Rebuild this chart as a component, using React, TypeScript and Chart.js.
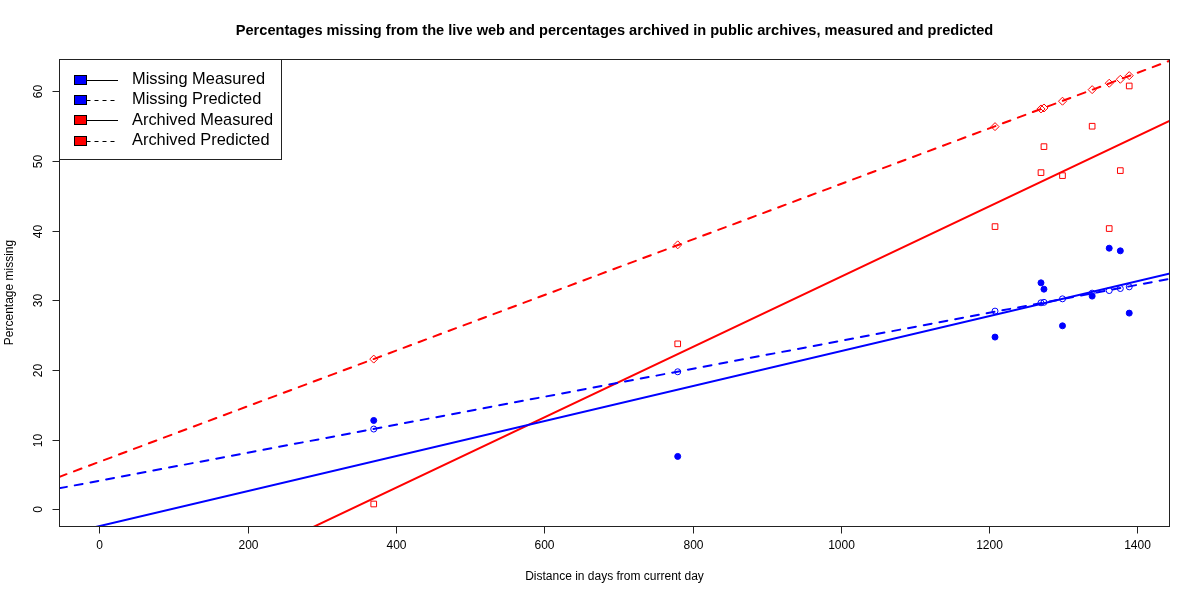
import React, { useEffect, useRef } from "react";
import { Chart, registerables } from "chart.js";

Chart.register(...registerables);

// ---- Data ----
const DAYS = [370, 780, 1208, 1270, 1274, 1299, 1339, 1362, 1377, 1389];
const MISSING_MEASURED = [12.74, 7.58, 24.71, 32.5, 31.59, 26.33, 30.59, 37.47, 37.09, 28.15];
const MISSING_PREDICTED = [11.51, 19.73, 28.44, 29.63, 29.7, 30.2, 31.02, 31.39, 31.68, 31.92];
const ARCHIVED_MEASURED = [0.75, 23.74, 40.57, 48.32, 52.05, 47.89, 54.98, 40.29, 48.61, 60.76];
const ARCHIVED_PREDICTED = [21.55, 37.95, 54.92, 57.46, 57.6, 58.57, 60.23, 61.15, 61.72, 62.24];

const X_TICKS = [0, 200, 400, 600, 800, 1000, 1200, 1400];
const Y_TICKS = [0, 10, 20, 30, 40, 50, 60];

const LEGEND_LABELS = ["Missing Measured", "Missing Predicted", "Archived Measured", "Archived Predicted"];
const LEGEND_COLORS = ["#0000FF", "#0000FF", "#FF0000", "#FF0000"];
const LEGEND_DASHED = [false, true, false, true];

const TITLE = "Percentages missing from the live web and percentages archived in public archives, measured and predicted";
const X_TITLE = "Distance in days from current day";
const Y_TITLE = "Percentage missing";

const X_MIN = -54.5;
const X_MAX = 1444;
const Y_MIN = -2.41;
const Y_MAX = 64.63;

const BLUE = "#0000FF";
const RED = "#FF0000";
const FONT = '"Liberation Sans", Arial, Helvetica, sans-serif';

function fit(xs: number[], ys: number[]) {
  const n = xs.length;
  const mx = xs.reduce((a, b) => a + b, 0) / n;
  const my = ys.reduce((a, b) => a + b, 0) / n;
  let sxy = 0;
  let sxx = 0;
  for (let i = 0; i < n; i++) {
    sxy += (xs[i] - mx) * (ys[i] - my);
    sxx += (xs[i] - mx) * (xs[i] - mx);
  }
  const b = sxy / sxx;
  const a = my - b * mx;
  return [
    { x: X_MIN, y: a + b * X_MIN },
    { x: X_MAX, y: a + b * X_MAX },
  ];
}

function pts(ys: number[]) {
  return DAYS.map((d, i) => ({ x: d, y: ys[i] }));
}

const rPlugin = {
  id: "rstyle",
  afterDraw(chart: any) {
    const { ctx, chartArea: a, scales } = chart;
    const xs = scales.x;
    const ys = scales.y;
    ctx.save();
    ctx.strokeStyle = "#222";
    ctx.fillStyle = "#000";
    ctx.lineWidth = 1;
    ctx.setLineDash([]);
    const L = Math.round(a.left) + 0.5;
    const T = Math.round(a.top) + 0.5;
    const R = Math.round(a.right) - 0.5;
    const B = Math.round(a.bottom) + 0.5;
    ctx.strokeRect(L, T, R - L, B - T);

    ctx.font = `12px ${FONT}`;
    ctx.textAlign = "center";
    ctx.textBaseline = "middle";
    X_TICKS.forEach((v) => {
      const px = Math.round(xs.getPixelForValue(v)) + 0.5;
      ctx.beginPath();
      ctx.moveTo(px, B);
      ctx.lineTo(px, B + 7);
      ctx.stroke();
      ctx.fillText(String(v), px, B + 19);
    });
    Y_TICKS.forEach((v) => {
      const py = Math.round(ys.getPixelForValue(v)) + 0.5;
      ctx.beginPath();
      ctx.moveTo(L - 7, py);
      ctx.lineTo(L, py);
      ctx.stroke();
      ctx.save();
      ctx.translate(L - 21, py);
      ctx.rotate(-Math.PI / 2);
      ctx.fillText(String(v), 0, 0);
      ctx.restore();
    });

    // axis titles
    const cx = (a.left + a.right) / 2;
    const cy = (a.top + a.bottom) / 2;
    ctx.fillText(X_TITLE, cx, 577);
    ctx.save();
    ctx.translate(10, cy);
    ctx.rotate(-Math.PI / 2);
    ctx.fillText(Y_TITLE, 0, 0);
    ctx.restore();

    // main title
    ctx.font = `bold 14.6px ${FONT}`;
    ctx.fillText(TITLE, cx, 30.5);

    // legend
    const boxL = L;
    const boxT = T;
    const boxR = 281.5;
    const boxB = 159.5;
    ctx.fillStyle = "#fff";
    ctx.fillRect(boxL, boxT, boxR - boxL, boxB - boxT);
    ctx.strokeStyle = "#222";
    ctx.strokeRect(boxL, boxT, boxR - boxL, boxB - boxT);
    ctx.font = `16.4px ${FONT}`;
    ctx.textAlign = "left";
    LEGEND_LABELS.forEach((lab, i) => {
      const y = 79.5 + i * 20.4;
      const yy = Math.round(y) + 0.5;
      ctx.fillStyle = LEGEND_COLORS[i];
      ctx.fillRect(74.5, yy - 5, 12, 9);
      ctx.strokeStyle = "#000";
      ctx.setLineDash([]);
      ctx.strokeRect(74.5, yy - 5, 12, 9);
      ctx.beginPath();
      ctx.setLineDash(LEGEND_DASHED[i] ? [4, 4] : []);
      ctx.moveTo(86.5, yy);
      ctx.lineTo(118, yy);
      ctx.stroke();
      ctx.setLineDash([]);
      ctx.fillStyle = "#000";
      ctx.fillText(lab, 132, y);
    });
    ctx.restore();
  },
};

export default function App() {
  const ref = useRef<HTMLCanvasElement | null>(null);
  useEffect(() => {
    document.body.style.margin = "0";
    const canvas = ref.current;
    if (!canvas) return;
    const lineDs = (label: string, data: any[], color: string, dashed: boolean) => ({
      label,
      data,
      showLine: true,
      borderColor: color,
      backgroundColor: color,
      borderWidth: 2,
      borderDash: dashed ? [8, 8] : [],
      borderCapStyle: "round",
      pointRadius: 0,
      pointHoverRadius: 0,
      fill: false,
    });
    const chart = new Chart(canvas, {
      type: "scatter",
      data: {
        datasets: [
          lineDs("Missing Measured fit", fit(DAYS, MISSING_MEASURED), BLUE, false),
          lineDs("Missing Predicted fit", fit(DAYS, MISSING_PREDICTED), BLUE, true),
          lineDs("Archived Measured fit", fit(DAYS, ARCHIVED_MEASURED), RED, false),
          lineDs("Archived Predicted fit", fit(DAYS, ARCHIVED_PREDICTED), RED, true),
          {
            label: "Missing Measured",
            data: pts(MISSING_MEASURED),
            pointStyle: "circle",
            pointRadius: 3,
            borderWidth: 1,
            borderColor: BLUE,
            backgroundColor: BLUE,
          },
          {
            label: "Missing Predicted",
            data: pts(MISSING_PREDICTED),
            pointStyle: "circle",
            pointRadius: 3,
            borderWidth: 1,
            borderColor: BLUE,
            backgroundColor: "rgba(0,0,0,0)",
          },
          {
            label: "Archived Measured",
            data: pts(ARCHIVED_MEASURED),
            pointStyle: "rect",
            pointRadius: 4,
            borderWidth: 1,
            borderColor: RED,
            backgroundColor: "rgba(0,0,0,0)",
          },
          {
            label: "Archived Predicted",
            data: pts(ARCHIVED_PREDICTED),
            pointStyle: "rectRot",
            pointRadius: 4,
            borderWidth: 1,
            borderColor: RED,
            backgroundColor: "rgba(0,0,0,0)",
          },
        ],
      } as any,
      options: {
        animation: false,
        responsive: false,
        events: [],
        layout: { padding: { left: 59, top: 59, right: 30, bottom: 74 } },
        plugins: {
          legend: { display: false },
          tooltip: { enabled: false },
          title: { display: false },
        },
        scales: {
          x: { type: "linear", min: X_MIN, max: X_MAX, display: false },
          y: { type: "linear", min: Y_MIN, max: Y_MAX, display: false },
        },
      } as any,
      plugins: [rPlugin],
    });
    return () => chart.destroy();
  }, []);
  return (
    <div style={{ width: 1200, height: 600, background: "#fff" }}>
      <canvas ref={ref} width={1200} height={600} style={{ display: "block" }} />
    </div>
  );
}
